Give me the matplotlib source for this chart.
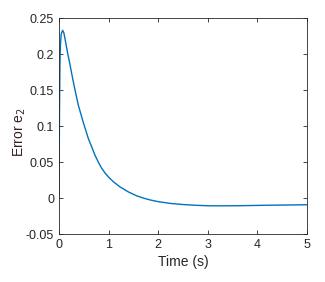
import matplotlib.pyplot as plt

# values
time = [0, 0.005, 0.01, 0.02, 0.03, 0.045, 0.074, 0.1, 0.13, 0.175, 0.22, 0.27, 0.323,
        0.39, 0.44, 0.49, 0.54, 0.59, 0.66, 0.726, 0.8, 0.86, 0.927, 1.0, 1.1,
        1.23, 1.4, 1.57, 1.7, 1.83, 2.0, 2.25, 2.5, 2.75, 3.0,
        3.25, 3.5, 3.75, 4.0, 4.25, 4.5, 4.75, 5.0]
err_e2 = [0, 0.06, 0.12, 0.19, 0.214, 0.228, 0.233, 0.229, 0.218, 0.201, 0.186, 0.168, 0.150,
          0.129, 0.117, 0.105, 0.094, 0.083, 0.071, 0.0595, 0.049, 0.0415, 0.035, 0.029, 0.0225,
          0.0155, 0.0085, 0.003, 0.0, -0.0025, -0.005, -0.0075, -0.009, -0.010, -0.0107,
          -0.0108, -0.0107, -0.0105, -0.0102, -0.0099, -0.0097, -0.0095, -0.0093]

plt.rcParams['font.family'] = ['Liberation Sans Narrow', 'Liberation Sans', 'DejaVu Sans']

fig = plt.figure(figsize=(3.25, 2.82), dpi=100)
ax = fig.add_axes([0.1815, 0.170, 0.763, 0.766])
ax.plot(time, err_e2, c='#0072BD', lw=1.0)

# Format plot.
ax.set_xlim(0, 5)
ax.set_ylim(-0.05, 0.25)
ax.set_xticks([0, 1, 2, 3, 4, 5])
ax.set_yticks([-0.05, 0, 0.05, 0.1, 0.15, 0.2, 0.25])
ax.set_yticklabels(['-0.05', '0', '0.05', '0.1', '0.15', '0.2', '0.25'])
ax.set_xlabel('Time (s)', fontsize=10, color='#262626', labelpad=3)
ax.set_ylabel('Error e$_2$', fontsize=10, color='#3a1f1f',
              family=['Liberation Sans', 'DejaVu Sans'])
ax.yaxis.set_label_coords(-0.125, 0.472)
ax.tick_params(axis='both', which='major', labelsize=9, direction='in',
               top=True, right=True, length=3, width=0.6, colors='#262626')
for s in ax.spines.values():
    s.set_linewidth(0.6)
    s.set_color('#262626')

fig.savefig('out.png', dpi=100)
